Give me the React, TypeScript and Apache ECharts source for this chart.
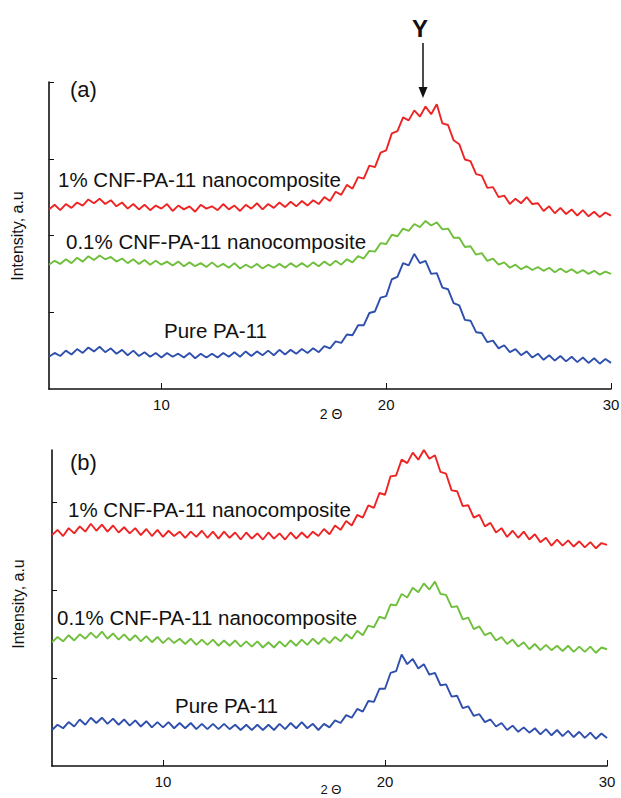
import React, { useEffect, useRef } from "react";
import * as echarts from "echarts";

// 2θ grid (degrees), one sample every 0.25°
const THETA_START = 5;
const THETA_STEP = 0.25;
const THETA_COUNT = 101;
const X_TICKS = [10, 20, 30];

// Panel (a)
const RED_A = [
  2.34, 2.40, 2.33, 2.41, 2.36, 2.43, 2.39, 2.47, 2.42, 2.48,
  2.41, 2.46, 2.38, 2.43, 2.35, 2.41, 2.34, 2.40, 2.33, 2.39,
  2.35, 2.41, 2.32, 2.39, 2.34, 2.38, 2.31, 2.40, 2.35, 2.38,
  2.33, 2.41, 2.34, 2.39, 2.32, 2.40, 2.35, 2.42, 2.34, 2.41,
  2.36, 2.43, 2.37, 2.44, 2.38, 2.45, 2.39, 2.46, 2.41, 2.50,
  2.45, 2.57, 2.53, 2.66, 2.61, 2.76, 2.74, 2.91, 2.89, 3.08,
  3.11, 3.33, 3.36, 3.54, 3.50, 3.63, 3.55, 3.68, 3.58, 3.71,
  3.46, 3.44, 3.24, 3.19, 2.99, 2.97, 2.80, 2.78, 2.62, 2.63,
  2.50, 2.52, 2.41, 2.48, 2.42, 2.50, 2.41, 2.42, 2.32, 2.38,
  2.29, 2.36, 2.28, 2.34, 2.26, 2.33, 2.25, 2.31, 2.24, 2.30,
  2.26,
];
const GREEN_A = [
  1.62, 1.67, 1.63, 1.69, 1.64, 1.71, 1.66, 1.73, 1.68, 1.74,
  1.69, 1.72, 1.66, 1.70, 1.64, 1.69, 1.63, 1.68, 1.62, 1.67,
  1.62, 1.66, 1.61, 1.66, 1.60, 1.65, 1.60, 1.64, 1.59, 1.65,
  1.59, 1.63, 1.58, 1.64, 1.57, 1.62, 1.58, 1.63, 1.57, 1.62,
  1.58, 1.63, 1.58, 1.64, 1.59, 1.64, 1.59, 1.65, 1.60, 1.66,
  1.61, 1.67, 1.62, 1.69, 1.65, 1.73, 1.70, 1.80, 1.79, 1.90,
  1.89, 2.01, 1.99, 2.09, 2.06, 2.15, 2.11, 2.19, 2.13, 2.17,
  2.08, 2.09, 1.97, 1.97, 1.85, 1.86, 1.75, 1.77, 1.67, 1.70,
  1.62, 1.65, 1.58, 1.62, 1.56, 1.60, 1.55, 1.59, 1.54, 1.58,
  1.52, 1.57, 1.52, 1.56, 1.51, 1.55, 1.50, 1.54, 1.49, 1.53,
  1.50,
];
const BLUE_A = [
  0.42, 0.47, 0.43, 0.50, 0.45, 0.52, 0.47, 0.54, 0.49, 0.55,
  0.48, 0.53, 0.46, 0.51, 0.44, 0.50, 0.43, 0.48, 0.42, 0.47,
  0.41, 0.47, 0.42, 0.46, 0.41, 0.47, 0.40, 0.46, 0.41, 0.46,
  0.41, 0.47, 0.42, 0.48, 0.42, 0.49, 0.43, 0.49, 0.44, 0.50,
  0.44, 0.51, 0.45, 0.51, 0.46, 0.52, 0.47, 0.53, 0.48, 0.56,
  0.53, 0.62, 0.60, 0.71, 0.70, 0.83, 0.83, 0.99, 1.01, 1.19,
  1.21, 1.43, 1.46, 1.64, 1.61, 1.76, 1.64, 1.67, 1.50, 1.51,
  1.32, 1.30, 1.12, 1.09, 0.90, 0.89, 0.74, 0.73, 0.61, 0.63,
  0.53, 0.57, 0.48, 0.52, 0.44, 0.49, 0.41, 0.46, 0.38, 0.44,
  0.37, 0.43, 0.36, 0.42, 0.35, 0.41, 0.34, 0.40, 0.33, 0.39,
  0.34,
];

// Panel (b)
const RED_B = [
  2.63, 2.69, 2.62, 2.71, 2.65, 2.73, 2.67, 2.76, 2.68, 2.75,
  2.67, 2.74, 2.66, 2.72, 2.65, 2.71, 2.63, 2.70, 2.62, 2.69,
  2.61, 2.68, 2.62, 2.67, 2.60, 2.67, 2.61, 2.68, 2.60, 2.67,
  2.59, 2.67, 2.60, 2.66, 2.58, 2.66, 2.59, 2.65, 2.58, 2.66,
  2.59, 2.65, 2.58, 2.66, 2.59, 2.66, 2.60, 2.67, 2.62, 2.70,
  2.64, 2.74, 2.69, 2.79, 2.74, 2.86, 2.83, 2.97, 2.94, 3.11,
  3.09, 3.30, 3.31, 3.49, 3.45, 3.57, 3.49, 3.60, 3.50, 3.54,
  3.35, 3.33, 3.14, 3.13, 2.96, 2.97, 2.83, 2.86, 2.73, 2.77,
  2.66, 2.71, 2.61, 2.68, 2.60, 2.67, 2.58, 2.64, 2.55, 2.60,
  2.51, 2.58, 2.51, 2.57, 2.50, 2.56, 2.49, 2.55, 2.48, 2.54,
  2.52,
];
const GREEN_B = [
  1.41, 1.47, 1.42, 1.49, 1.43, 1.50, 1.45, 1.52, 1.46, 1.53,
  1.45, 1.51, 1.44, 1.50, 1.43, 1.49, 1.42, 1.48, 1.41, 1.47,
  1.40, 1.46, 1.40, 1.45, 1.39, 1.45, 1.38, 1.44, 1.38, 1.44,
  1.37, 1.43, 1.37, 1.43, 1.36, 1.42, 1.36, 1.42, 1.35, 1.41,
  1.35, 1.42, 1.36, 1.43, 1.37, 1.44, 1.38, 1.45, 1.39, 1.46,
  1.40, 1.47, 1.42, 1.50, 1.45, 1.54, 1.49, 1.60, 1.58, 1.70,
  1.68, 1.84, 1.83, 1.96, 1.92, 2.03, 1.98, 2.08, 2.01, 2.10,
  1.96, 1.95, 1.81, 1.82, 1.67, 1.69, 1.56, 1.59, 1.49, 1.52,
  1.43, 1.47, 1.39, 1.44, 1.36, 1.41, 1.33, 1.39, 1.32, 1.38,
  1.32, 1.37, 1.31, 1.37, 1.30, 1.36, 1.30, 1.36, 1.29, 1.35,
  1.33,
];
const BLUE_B = [
  0.41, 0.47, 0.43, 0.50, 0.45, 0.53, 0.47, 0.55, 0.49, 0.55,
  0.48, 0.54, 0.47, 0.53, 0.46, 0.52, 0.45, 0.51, 0.44, 0.50,
  0.44, 0.50, 0.43, 0.49, 0.43, 0.49, 0.42, 0.48, 0.42, 0.48,
  0.42, 0.48, 0.42, 0.47, 0.41, 0.47, 0.41, 0.47, 0.41, 0.47,
  0.41, 0.48, 0.42, 0.49, 0.43, 0.50, 0.43, 0.48, 0.41, 0.48,
  0.44, 0.52, 0.49, 0.58, 0.55, 0.65, 0.62, 0.74, 0.73, 0.88,
  0.88, 1.06, 1.08, 1.27, 1.16, 1.22, 1.11, 1.16, 1.04, 1.06,
  0.92, 0.93, 0.79, 0.80, 0.66, 0.68, 0.57, 0.59, 0.50, 0.53,
  0.45, 0.49, 0.41, 0.46, 0.39, 0.44, 0.38, 0.43, 0.36, 0.42,
  0.35, 0.41, 0.34, 0.40, 0.33, 0.39, 0.32, 0.38, 0.31, 0.37,
  0.32,
];

const LABEL_1 = "1% CNF-PA-11 nanocomposite";
const LABEL_01 = "0.1% CNF-PA-11 nanocomposite";
const LABEL_PURE = "Pure PA-11";

const RED = "#ee2424";
const GREEN = "#6fbf3c";
const BLUE = "#2f4fae";
const FONT = "'Liberation Sans', Arial, Helvetica, sans-serif";

const THETA = Array.from({ length: THETA_COUNT }, (_, i) => THETA_START + i * THETA_STEP);
const pairs = (vals: number[]) => THETA.map((t, i) => [t, vals[i]]);

export default function App() {
  const ref = useRef<HTMLDivElement>(null);

  useEffect(() => {
    document.body.style.margin = "0";
    if (!ref.current) return;
    const chart = echarts.init(ref.current, undefined, { renderer: "svg" });

    const xAxisBase = (gridIndex: number) => ({
      gridIndex,
      type: "value",
      min: 5,
      max: 30,
      axisLine: { onZero: false, lineStyle: { color: "#111", width: 1.6 } },
      axisTick: { inside: true, length: 6, customValues: X_TICKS, lineStyle: { color: "#111", width: 1 } },
      axisLabel: { customValues: X_TICKS, fontSize: 15, color: "#111", margin: 8, fontFamily: FONT },
      splitLine: { show: false },
    });
    const yAxisBase = (gridIndex: number, max: number, ticks: number[]) => ({
      gridIndex,
      type: "value",
      min: 0,
      max,
      interval: 1,
      axisLine: { show: true, onZero: false, lineStyle: { color: "#111", width: 1.6 } },
      axisTick: { show: true, inside: true, length: 5, customValues: ticks, lineStyle: { color: "#111", width: 1 } },
      axisLabel: { show: false },
      splitLine: { show: false },
    });

    const line = (data: number[], color: string, idx: number) => ({
      type: "line",
      xAxisIndex: idx,
      yAxisIndex: idx,
      data: pairs(data),
      showSymbol: false,
      symbol: "none",
      lineStyle: { color, width: 1.9 },
      silent: true,
    });

    const txt = (text: string, x: number, y: number, size: number, extra: any = {}) => ({
      type: "text",
      x,
      y,
      silent: true,
      style: {
        text,
        font: `${extra.weight || "normal"} ${size}px ${FONT}`,
        fill: extra.fill || "#111",
        textAlign: extra.align || "left",
        textVerticalAlign: "middle",
      },
      rotation: extra.rotation || 0,
    });

    chart.setOption({
      animation: false,
      backgroundColor: "#ffffff",
      grid: [
        { left: 49, top: 82, width: 562, height: 307, outerBoundsMode: "none" },
        { left: 52, top: 450, width: 555, height: 316, outerBoundsMode: "none" },
      ],
      xAxis: [xAxisBase(0), xAxisBase(1)],
      yAxis: [yAxisBase(0, 4, [1, 2, 3, 4]), yAxisBase(1, 3.6, [1, 2, 3])],
      series: [
        line(RED_A, RED, 0),
        line(GREEN_A, GREEN, 0),
        line(BLUE_A, BLUE, 0),
        line(RED_B, RED, 1),
        line(GREEN_B, GREEN, 1),
        line(BLUE_B, BLUE, 1),
      ],
      graphic: [
        txt("(a)", 70, 89, 22),
        txt(LABEL_1, 58, 179, 20.5),
        txt(LABEL_01, 66, 241, 20.5),
        txt(LABEL_PURE, 164, 330, 20.5),
        txt("2 Θ", 331, 414, 14, { align: "center" }),
        txt("Intensity, a.u", 17, 236, 16, { align: "center", rotation: Math.PI / 2 }),
        txt("Y", 420, 28, 24, { align: "center", weight: "bold" }),
        {
          type: "line",
          silent: true,
          shape: { x1: 423, y1: 43, x2: 423, y2: 90 },
          style: { stroke: "#111", lineWidth: 1.5 },
        },
        {
          type: "polygon",
          silent: true,
          shape: { points: [[418.5, 87], [427.5, 87], [423, 98]] },
          style: { fill: "#111" },
        },
        txt("(b)", 70, 462, 22),
        txt(LABEL_1, 68, 509, 20.5),
        txt(LABEL_01, 57, 617, 20.5),
        txt(LABEL_PURE, 175, 705, 20.5),
        txt("2 Θ", 331, 789, 13, { align: "center" }),
        txt("Intensity, a.u", 18, 604, 16, { align: "center", rotation: Math.PI / 2 }),
      ],
    });

    return () => chart.dispose();
  }, []);

  return <div ref={ref} style={{ width: 621, height: 798 }} />;
}
